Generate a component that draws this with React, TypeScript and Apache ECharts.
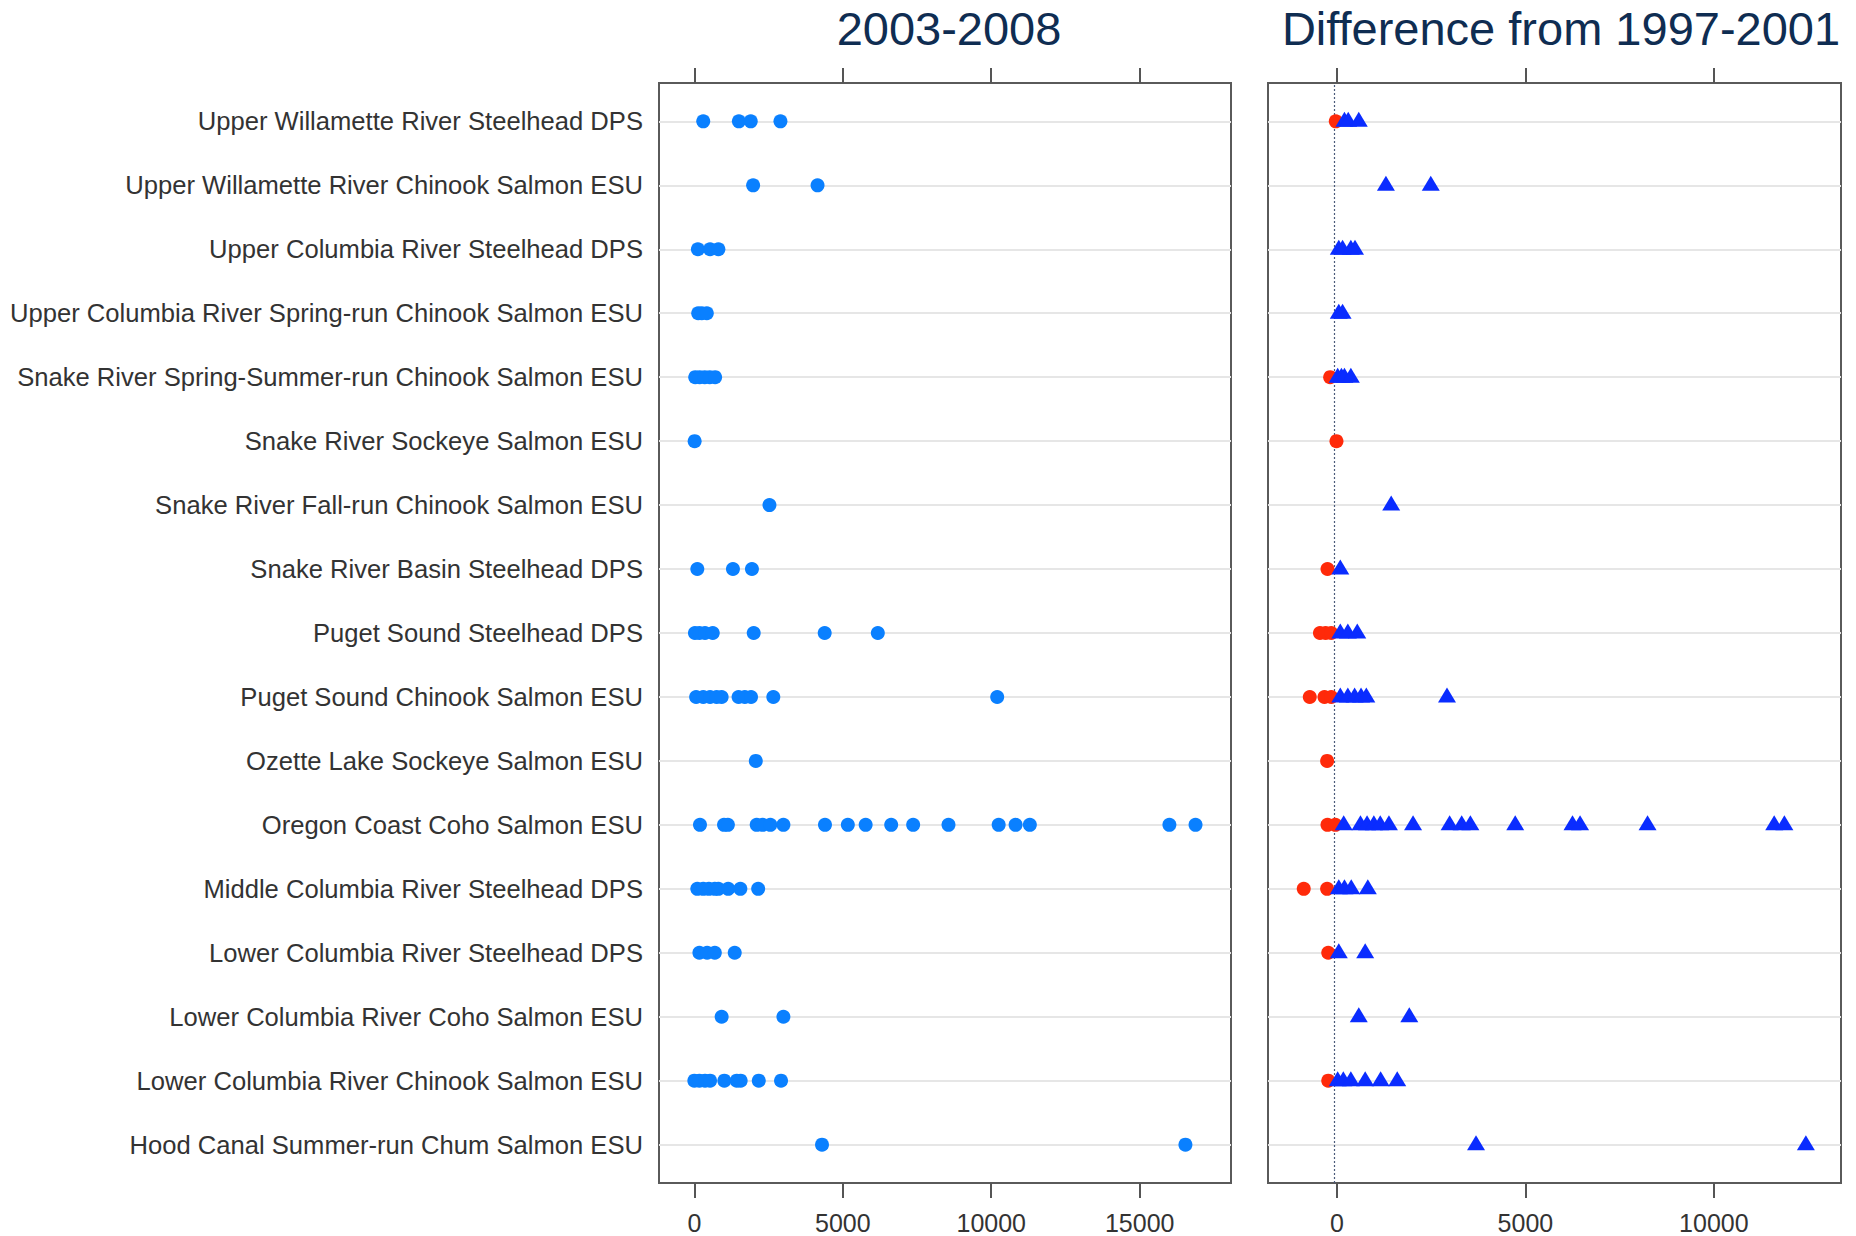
import React, { useEffect, useRef } from "react";
import * as echarts from "echarts";

// Categories, top to bottom as displayed
const categories = [
  "Upper Willamette River Steelhead DPS",
  "Upper Willamette River Chinook Salmon ESU",
  "Upper Columbia River Steelhead DPS",
  "Upper Columbia River Spring-run Chinook Salmon ESU",
  "Snake River Spring-Summer-run Chinook Salmon ESU",
  "Snake River Sockeye Salmon ESU",
  "Snake River Fall-run Chinook Salmon ESU",
  "Snake River Basin Steelhead DPS",
  "Puget Sound Steelhead DPS",
  "Puget Sound Chinook Salmon ESU",
  "Ozette Lake Sockeye Salmon ESU",
  "Oregon Coast Coho Salmon ESU",
  "Middle Columbia River Steelhead DPS",
  "Lower Columbia River Steelhead DPS",
  "Lower Columbia River Coho Salmon ESU",
  "Lower Columbia River Chinook Salmon ESU",
  "Hood Canal Summer-run Chum Salmon ESU",
];

// 2003-2008 values (one list per category)
const recent2003to2008 = [
  [300, 1500, 1900, 2900],
  [1980, 4150],
  [120, 530, 810],
  [130, 250, 420],
  [30, 180, 350, 520, 700],
  [10],
  [2530],
  [100, 1300, 1940],
  [20, 170, 360, 620, 2000, 4390, 6180],
  [60, 300, 530, 750, 920, 1490, 1700, 1910, 2660, 10200],
  [2070],
  [190, 1000, 1130, 2100, 2300, 2560, 3000, 4400, 5170, 5770, 6630, 7370, 8560, 10250, 10820, 11300, 16000, 16880],
  [100, 300, 490, 690, 810, 1140, 1550, 2150],
  [170, 430, 690, 1360],
  [920, 3000],
  [0, 170, 360, 530, 1010, 1430, 1560, 2170, 2920],
  [4300, 16540],
];

// Difference from 1997-2001 (one list per category)
const differenceFrom1997to2001 = [
  [-30, 200, 300, 580],
  [1300, 2490],
  [50, 150, 370, 480],
  [50, 150],
  [-180, 20, 120, 200, 370],
  [-12],
  [1440],
  [-250, 90],
  [-450, -300, -150, 90, 290, 540],
  [-720, -330, -150, 90, 290, 470, 640, 780, 2920],
  [-260],
  [-250, -40, 180, 625, 800, 980, 1150, 1380, 2020, 2990, 3310, 3540, 4730, 6250, 6450, 8240, 11600, 11870],
  [-880, -260, 50, 200, 380, 820],
  [-230, 50, 750],
  [580, 1920],
  [-230, 20, 170, 370, 750, 1160, 1600],
  [3690, 12440],
];

const leftTicks = [0, 5000, 10000, 15000];
const rightTicks = [0, 5000, 10000];
const leftTitle = "2003-2008";
const rightTitle = "Difference from 1997-2001";

const FONT = "'Liberation Sans', Arial, Helvetica, sans-serif";

export default function App() {
  const ref = useRef<HTMLDivElement>(null);

  useEffect(() => {
    if (!ref.current) return;
    const chart = echarts.init(ref.current, null, { renderer: "svg" });
    const N = categories.length;
    const rowPos = categories.map((_, i) => N - i);

    const leftData = recent2003to2008.flatMap((vals, i) => vals.map((v) => [v, N - i]));
    const negData = differenceFrom1997to2001.flatMap((vals, i) =>
      vals.filter((v) => v < 0).map((v) => [v, N - i])
    );
    const posData = differenceFrom1997to2001.flatMap((vals, i) =>
      vals.filter((v) => v >= 0).map((v) => [v, N - i])
    );

    const gridLines = {
      silent: true,
      symbol: ["none", "none"],
      z: 1,
      label: { show: false },
      lineStyle: { color: "#e6e6e6", width: 2, type: "solid" },
      data: rowPos.map((y) => ({ yAxis: y })),
    };

    const xBottom = (gridIndex: number, min: number, max: number, ticks: number[]) => ({
      type: "value",
      gridIndex,
      position: "bottom",
      min,
      max,
      axisLine: { show: false },
      splitLine: { show: false },
      axisTick: {
        show: true,
        customValues: ticks,
        length: 15,
        lineStyle: { color: "#555", width: 2 },
      },
      axisLabel: {
        show: true,
        customValues: ticks,
        formatter: (v: number) => String(v),
        fontSize: 25,
        color: "#333",
        margin: 27,
        fontFamily: FONT,
      },
    });
    const xTop = (gridIndex: number, min: number, max: number, ticks: number[]) => ({
      type: "value",
      gridIndex,
      position: "top",
      min,
      max,
      axisLine: { show: false },
      splitLine: { show: false },
      axisTick: {
        show: true,
        customValues: ticks,
        length: 15,
        lineStyle: { color: "#555", width: 2 },
      },
      axisLabel: { show: false },
    });
    const yAx = (gridIndex: number, showLabels: boolean) => ({
      type: "value",
      gridIndex,
      min: 0.4,
      max: N + 0.6,
      axisLine: { show: false },
      splitLine: { show: false },
      axisTick: {
        show: true,
        customValues: rowPos,
        length: 4,
        lineStyle: { color: "#bbb", width: 1 },
      },
      axisLabel: {
        show: showLabels,
        customValues: rowPos,
        formatter: (v: number) => categories[N - Math.round(v)] ?? "",
        fontSize: 25.6,
        color: "#333",
        margin: 16,
        fontFamily: FONT,
      },
    });

    const option = {
      animation: false,
      backgroundColor: "#ffffff",
      textStyle: { fontFamily: FONT },
      grid: [
        { left: 659, top: 83, width: 572, height: 1100, show: true, borderColor: "#5a5a5a", borderWidth: 2, backgroundColor: "transparent" },
        { left: 1268, top: 83, width: 573, height: 1100, show: true, borderColor: "#5a5a5a", borderWidth: 2, backgroundColor: "transparent" },
      ],
      xAxis: [
        xBottom(0, -1190, 18075, leftTicks),
        xBottom(1, -1828, 13372, rightTicks),
        xTop(0, -1190, 18075, leftTicks),
        xTop(1, -1828, 13372, rightTicks),
      ],
      yAxis: [yAx(0, true), yAx(1, false)],
      graphic: [
        {
          type: "text",
          x: 949,
          y: 28,
          style: {
            text: leftTitle,
            font: `47px ${FONT}`,
            fill: "#0f2d52",
            textAlign: "center",
            textVerticalAlign: "middle",
          },
        },
        {
          type: "text",
          x: 1561,
          y: 28,
          style: {
            text: rightTitle,
            font: `47px ${FONT}`,
            fill: "#0f2d52",
            textAlign: "center",
            textVerticalAlign: "middle",
          },
        },
      ],
      series: [
        {
          type: "scatter",
          name: leftTitle,
          xAxisIndex: 0,
          yAxisIndex: 0,
          z: 3,
          symbol: "circle",
          symbolSize: 14,
          itemStyle: { color: "#0a80ff", opacity: 1 },
          data: leftData,
          markLine: gridLines,
        },
        {
          type: "scatter",
          name: "decrease",
          xAxisIndex: 1,
          yAxisIndex: 1,
          z: 3,
          symbol: "circle",
          symbolSize: 14,
          itemStyle: { color: "#ff2a0a", opacity: 1 },
          data: negData,
          markLine: {
            silent: true,
            symbol: ["none", "none"],
            z: 2,
            label: { show: false },
            lineStyle: { color: "#4a5a7a", width: 1.2, type: [2, 2] },
            data: [{ xAxis: -60 }],
          },
        },
        {
          type: "scatter",
          name: "increase",
          xAxisIndex: 1,
          yAxisIndex: 1,
          z: 4,
          symbol: "triangle",
          symbolSize: [18, 15],
          symbolOffset: [0, -2],
          itemStyle: { color: "#0a2cff", opacity: 1 },
          data: posData,
          markLine: gridLines,
        },
      ],
    };

    chart.setOption(option as any);
    return () => chart.dispose();
  }, []);

  return (
    <div
      ref={ref}
      style={{ position: "fixed", left: 0, top: 0, width: 1856, height: 1236, background: "#fff" }}
    />
  );
}
